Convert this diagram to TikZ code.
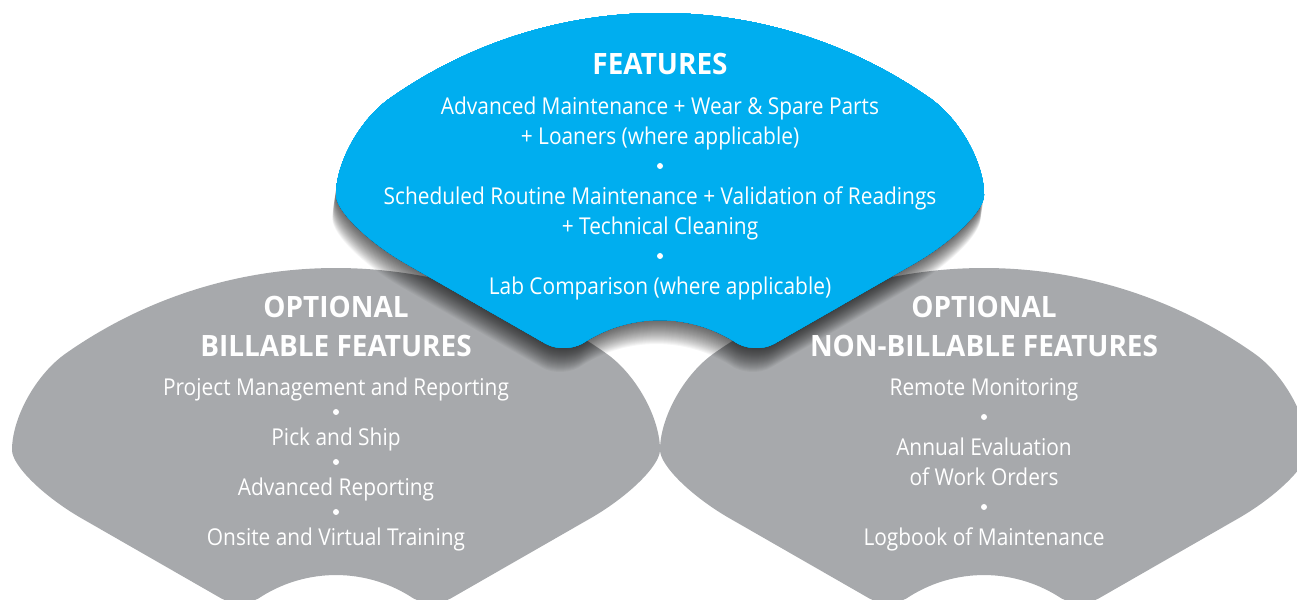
\documentclass[tikz,border=0pt]{standalone}
\usepackage{fontspec}
\setmainfont{Open Sans}[FakeStretch=0.9]
\newfontfamily\fantitlefont{Open Sans}[FakeStretch=0.95]
\definecolor{fanblue}{RGB}{0,174,239}
\definecolor{fangrey}{RGB}{167,169,172}

\tikzset{
    fan title/.style={
        text=white,anchor=base,inner sep=0pt,
        font=\fantitlefont\fontsize{14.7}{17}\selectfont\bfseries
    },
    fan text/.style={
        text=white,anchor=base,inner sep=0pt,
        font=\fontsize{11.6}{14}\selectfont
    },
    fan dot/.style={
        circle,fill=white,inner sep=0pt,minimum size=3pt
    }
}

% one fan, top middle at #2
\newcommand{\fanshape}[2]{%
    \path[#1,shift={#2}] (-255,-250) -- (-114.6,-330.5)
        .. controls (-102.7,-337.4) and (-84.3,-336.2) .. (-73.4,-327.8)
        arc[start angle=121.6,end angle=58.4,radius=140]
        .. controls (84.3,-336.2) and (102.7,-337.4) .. (114.6,-330.5)
        -- (255,-250)
        .. controls (293,-228) and (324,-197.4) .. (324,-182)
        .. controls (324,-149.5) and (299.7,-105.8) .. (269.6,-85)
        arc[start angle=55,end angle=125,radius=470]
        .. controls (-299.7,-105.8) and (-324,-149.5) .. (-324,-182)
        .. controls (-324,-197.4) and (-293,-228) .. (-255,-250) -- cycle;}

\begin{document}
\begin{tikzpicture}[x=0.5pt,y=0.5pt]
        \useasboundingbox (0,0) rectangle (1297,600);
        \clip (0,0) rectangle (1297,600);
        \fanshape{fill=fangrey}{(336,332)}
        \fanshape{fill=fangrey}{(984,332)}
        % soft shadow below the blue fan
        \foreach \k in {1,...,24}
            \fanshape{fill=black,fill opacity=0.034}{(660-0.15*\k,587-\k)}
        \fanshape{fill=fanblue}{(660,587)}
        % top fan
        \node[fan title] (features) at (660,525) {FEATURES};
        \foreach \txt [count=\i] in {{Advanced Maintenance + Wear \& Spare Parts},{+ Loaners (where applicable)},{},{Scheduled Routine Maintenance + Validation of Readings},{+ Technical Cleaning},{},{Lab Comparison (where applicable)}}
            \node[fan text] (feat\i) at (660,515-30*\i) {\txt};
        \foreach \i in {3,6}
            \node[fan dot] (featdot\i) at (660,524-30*\i) {};
        % left fan
        \node[fan title] (optbill) at (336,282) {OPTIONAL};
        \node[fan title] (billfeat) at (336,243) {BILLABLE FEATURES};
        \foreach \txt [count=\i] in {{Project Management and Reporting},{},{Pick and Ship},{},{Advanced Reporting},{},{Onsite and Virtual Training}}
            \node[fan text] (bill\i) at (336,229-25*\i) {\txt};
        \foreach \i in {2,4,6}
            \node[fan dot] (billdot\i) at (336,238-25*\i) {};
        % right fan
        \node[fan title] (optnon) at (984,282) {OPTIONAL};
        \node[fan title] (nonbillfeat) at (984,243) {NON-BILLABLE FEATURES};
        \foreach \txt [count=\i] in {{Remote Monitoring},{},{Annual Evaluation},{of Work Orders},{},{Logbook of Maintenance}}
            \node[fan text] (nonbill\i) at (984,234-30*\i) {\txt};
        \foreach \i in {2,5}
            \node[fan dot] (nonbilldot\i) at (984,243-30*\i) {};
\end{tikzpicture}
\end{document}
